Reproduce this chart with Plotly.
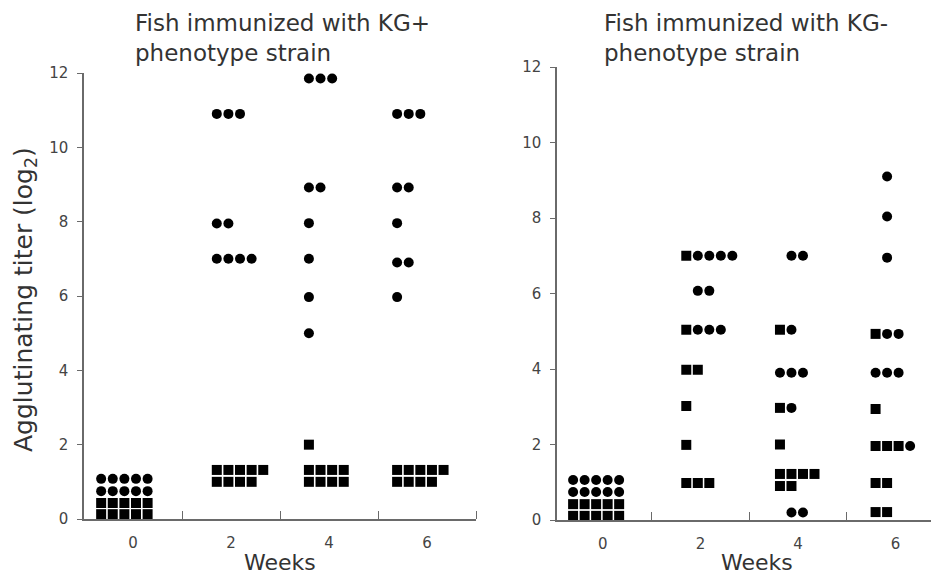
import plotly.graph_objects as go

W, H = 939, 574
OFF = 8  # page body margin in the viewer

# ---------------- DATA ----------------
# Left panel: fish immunized with KG+ phenotype strain
plus_weeks = [0, 0, 0, 0,
              2, 2, 2, 2, 2,
              4, 4, 4, 4, 4, 4, 4, 4, 4,
              6, 6, 6, 6, 6, 6, 6]
plus_titers = [0.13, 0.43, 0.75, 1.08,
               10.9, 7.95, 7.0, 1.32, 1.0,
               11.85, 8.92, 7.96, 7.0, 5.97, 5.0, 2.0, 1.32, 1.0,
               10.9, 8.92, 7.96, 6.9, 5.97, 1.32, 1.0]
plus_symbols = ["square", "square", "circle", "circle",
                "circle", "circle", "circle", "square", "square",
                "circle", "circle", "circle", "circle", "circle", "circle", "square", "square", "square",
                "circle", "circle", "circle", "circle", "circle", "square", "square"]
plus_counts = [5, 5, 5, 5,
               3, 2, 4, 5, 4,
               3, 2, 1, 1, 1, 1, 1, 4, 4,
               3, 2, 1, 2, 1, 5, 4]

# Right panel: fish immunized with KG- phenotype strain
minus_weeks = [0, 0, 0, 0,
               2, 2, 2, 2, 2, 2, 2, 2, 2,
               4, 4, 4, 4, 4, 4, 4, 4, 4, 4,
               6, 6, 6, 6, 6, 6, 6, 6, 6, 6, 6]
minus_titers = [0.11, 0.42, 0.74, 1.06,
                7.0, 7.0, 6.07, 5.04, 5.04, 3.98, 3.02, 1.99, 0.98,
                7.0, 5.04, 5.04, 3.9, 2.97, 2.97, 2.0, 1.22, 0.9, 0.2,
                9.1, 8.04, 6.95, 4.93, 4.93, 3.9, 2.94, 1.96, 1.96, 0.98, 0.21]
minus_symbols = ["square", "square", "circle", "circle",
                 "square", "circle", "circle", "square", "circle", "square", "square", "square", "square",
                 "circle", "square", "circle", "circle", "square", "circle", "square", "square", "square", "circle",
                 "circle", "circle", "circle", "square", "circle", "circle", "square", "square", "circle", "square", "square"]
minus_counts = [5, 5, 5, 5,
                1, 4, 2, 1, 3, 2, 1, 1, 3,
                2, 1, 1, 3, 1, 1, 1, 4, 2, 2,
                1, 1, 1, 1, 2, 3, 1, 3, 1, 2, 2]

week_ticks = [0, 2, 4, 6]
week_labels = ["0", "2", "4", "6"]
y_ticks = [0, 2, 4, 6, 8, 10, 12]

# ---------------- LAYOUT HELPERS ----------------
def px(x):
    return (x - OFF) / W

def py(y):
    return 1 - (y - OFF) / H

def place(weeks, titers, symbols, counts, start, step, indent_small_circle_rows):
    """Lay markers of each (week, titer) row side by side: squares first, then circles."""
    rows = {}
    for w, t, s, c in zip(weeks, titers, symbols, counts):
        rows.setdefault((w, t), []).append((s, c))
    out = {"square": ([], []), "circle": ([], [])}
    for (w, t), items in rows.items():
        items.sort(key=lambda it: 0 if it[0] == "square" else 1)
        slot = 0
        only_circles = all(s == "circle" for s, _ in items)
        n_total = sum(c for _, c in items)
        if indent_small_circle_rows and w > 0 and only_circles and n_total <= 2:
            slot = 1
        for s, c in items:
            for _ in range(c):
                out[s][0].append(w + start[w] + slot * step)
                out[s][1].append(t)
                slot += 1
    return out

left_pts = place(plus_weeks, plus_titers, plus_symbols, plus_counts,
                 {0: -0.65, 2: -0.29, 4: -0.41, 6: -0.61}, 0.237, False)
right_pts = place(minus_weeks, minus_titers, minus_symbols, minus_counts,
                  {0: -0.61, 2: -0.29, 4: -0.37, 6: -0.41}, 0.236, True)

fig = go.Figure()
for pts, xa, ya in [(left_pts, "x", "y"), (right_pts, "x2", "y2")]:
    for sym in ["square", "circle"]:
        xs, ys = pts[sym]
        fig.add_trace(go.Scatter(
            x=xs, y=ys, mode="markers", xaxis=xa, yaxis=ya,
            marker=dict(symbol=sym, size=10, color="black", line=dict(width=0)),
            cliponaxis=False, showlegend=False, hoverinfo="skip"))

axis_col = "#6a6a6a"
tick_font = dict(family="DejaVu Sans", size=15, color="#444444")

def xaxis_cfg(dom, rng, minor_vals):
    return dict(domain=dom, range=rng, tickvals=week_ticks, ticktext=week_labels,
                ticks="", showgrid=False, zeroline=False, showline=True,
                linecolor=axis_col, linewidth=1.5, tickfont=tick_font,
                ticklabelstandoff=9, fixedrange=True, automargin=False,
                minor=dict(tickvals=minor_vals, ticks="inside", ticklen=8,
                           tickcolor=axis_col, tickwidth=1.2, showgrid=False))

def yaxis_cfg(dom, anchor):
    return dict(domain=dom, range=[0, 12], tickvals=y_ticks, ticks="outside",
                ticklen=5, tickcolor=axis_col, tickwidth=1.2, showgrid=False,
                zeroline=False, showline=True, linecolor=axis_col, linewidth=1.5,
                tickfont=tick_font, anchor=anchor, ticklabelstandoff=6,
                fixedrange=True, automargin=False)

fig.update_layout(
    template="none",
    width=W, height=H, margin=dict(l=0, r=0, t=0, b=0, pad=0, autoexpand=False),
    paper_bgcolor="white", plot_bgcolor="white",
    xaxis=xaxis_cfg([px(84), px(476)], [-1, 7], [1, 3, 5, 7]) | dict(anchor="y"),
    yaxis=yaxis_cfg([py(519), py(73)], "x"),
    xaxis2=xaxis_cfg([px(557), px(939)], [-0.94, 6.89], [1, 3, 5]) | dict(anchor="y2"),
    yaxis2=yaxis_cfg([py(520), py(67)], "x2"),
)

title_font = dict(family="DejaVu Sans", size=23, color="#333333")
ann = []
for x0, l1, l2 in [(133, "Fish immunized with KG+", "phenotype strain"),
                   (602, "Fish immunized with KG-", "phenotype strain")]:
    ann.append(dict(text=l1, x=px(x0), y=py(23), xref="paper", yref="paper",
                    xanchor="left", yanchor="middle", showarrow=False, font=title_font))
    ann.append(dict(text=l2, x=px(x0), y=py(53), xref="paper", yref="paper",
                    xanchor="left", yanchor="middle", showarrow=False, font=title_font))
ann.append(dict(text="Agglutinating titer (log<sub>2</sub>)", x=px(25), y=py(300),
                xref="paper", yref="paper", xanchor="center", yanchor="middle",
                textangle=-90, showarrow=False,
                font=dict(family="DejaVu Sans", size=25, color="#333333")))
for xc in [280, 757]:
    ann.append(dict(text="Weeks", x=px(xc), y=py(562), xref="paper", yref="paper",
                    xanchor="center", yanchor="middle", showarrow=False,
                    font=dict(family="DejaVu Sans", size=22, color="#333333")))
fig.update_layout(annotations=ann)

fig.write_html("out.html")
